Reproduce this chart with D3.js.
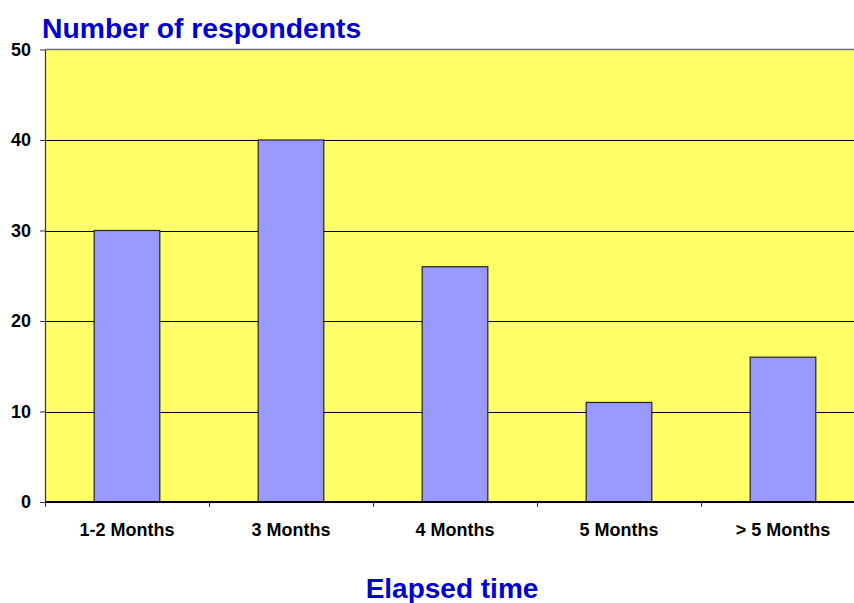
<!DOCTYPE html>
<html>
<head>
<meta charset="utf-8">
<script src="https://cdn.jsdelivr.net/npm/d3@7"></script>
<style>
  html, body { margin: 0; padding: 0; background: #ffffff; }
  svg { display: block; }
  text { font-family: "Liberation Sans", Arial, sans-serif; font-weight: bold; }
</style>
</head>
<body>
<svg id="chart" width="854" height="603"></svg>
<script>
// Survey results: how long respondents waited
const categories = ["1-2 Months", "3 Months", "4 Months", "5 Months", "> 5 Months"];
const respondents = [30, 40, 26, 11, 16];
const yTicks = [0, 10, 20, 30, 40, 50];

const svg = d3.select("#chart");
const plot = { left: 45, top: 49.5, right: 865, bottom: 502 };

const x = d3.scaleBand()
  .domain(categories)
  .range([plot.left, plot.right])
  .paddingInner(0.6)
  .paddingOuter(0.3);

const y = d3.scaleLinear()
  .domain([0, 50])
  .range([plot.bottom, plot.top]);

// plot background
svg.append("rect")
  .attr("x", plot.left).attr("y", plot.top)
  .attr("width", plot.right - plot.left).attr("height", plot.bottom - plot.top)
  .attr("fill", "#FFFF66");

// horizontal gridlines
svg.append("g")
  .selectAll("line")
  .data(yTicks.filter(d => d > 0 && d < 50))
  .join("line")
  .attr("x1", plot.left).attr("x2", plot.right)
  .attr("y1", d => Math.round(y(d)) + 0.5).attr("y2", d => Math.round(y(d)) + 0.5)
  .attr("stroke", "#000").attr("stroke-width", 1);

// top frame line
svg.append("line")
  .attr("x1", plot.left).attr("x2", plot.right)
  .attr("y1", plot.top).attr("y2", plot.top)
  .attr("stroke", "#707070").attr("stroke-width", 1.5);

// bars
svg.append("g")
  .selectAll("rect")
  .data(respondents)
  .join("rect")
  .attr("x", (d, i) => x(categories[i]))
  .attr("y", d => y(d))
  .attr("width", x.bandwidth())
  .attr("height", d => y(0) - y(d))
  .attr("fill", "#9999FF")
  .attr("stroke", "#222")
  .attr("stroke-width", 1.2);

// y axis
const yAxis = svg.append("g")
  .attr("transform", `translate(${plot.left},0)`)
  .call(d3.axisLeft(y).tickValues(yTicks).tickSize(5).tickPadding(9).tickSizeOuter(0));
yAxis.select(".domain").attr("stroke", "#333").attr("stroke-width", 1.2);
yAxis.selectAll(".tick line").attr("stroke", "#333");
yAxis.selectAll(".tick text")
  .attr("font-size", 18).attr("font-weight", "bold").attr("fill", "#000")
  .attr("font-family", "Liberation Sans, Arial, sans-serif");

// x axis: ticks on category boundaries
const bandStep = x.step();
const boundaries = categories.map((c, i) => plot.left + i * bandStep);
const xAxisG = svg.append("g");
xAxisG.append("line")
  .attr("x1", plot.left).attr("x2", plot.right)
  .attr("y1", plot.bottom).attr("y2", plot.bottom)
  .attr("stroke", "#000").attr("stroke-width", 2);
xAxisG.selectAll("line.tk")
  .data(boundaries)
  .join("line")
  .attr("class", "tk")
  .attr("x1", d => Math.round(d) + 0.5).attr("x2", d => Math.round(d) + 0.5)
  .attr("y1", plot.bottom).attr("y2", plot.bottom + 5)
  .attr("stroke", "#333");
xAxisG.selectAll("text")
  .data(categories)
  .join("text")
  .attr("x", d => x(d) + x.bandwidth() / 2)
  .attr("y", 536)
  .attr("text-anchor", "middle")
  .attr("font-size", 18)
  .attr("fill", "#000")
  .text(d => d);

// titles
svg.append("text")
  .attr("x", 42).attr("y", 38)
  .attr("font-size", 28.3).attr("fill", "#0000CC")
  .text("Number of respondents");

svg.append("text")
  .attr("x", 452).attr("y", 598)
  .attr("text-anchor", "middle")
  .attr("font-size", 28).attr("fill", "#0000CC")
  .text("Elapsed time");
</script>
</body>
</html>
